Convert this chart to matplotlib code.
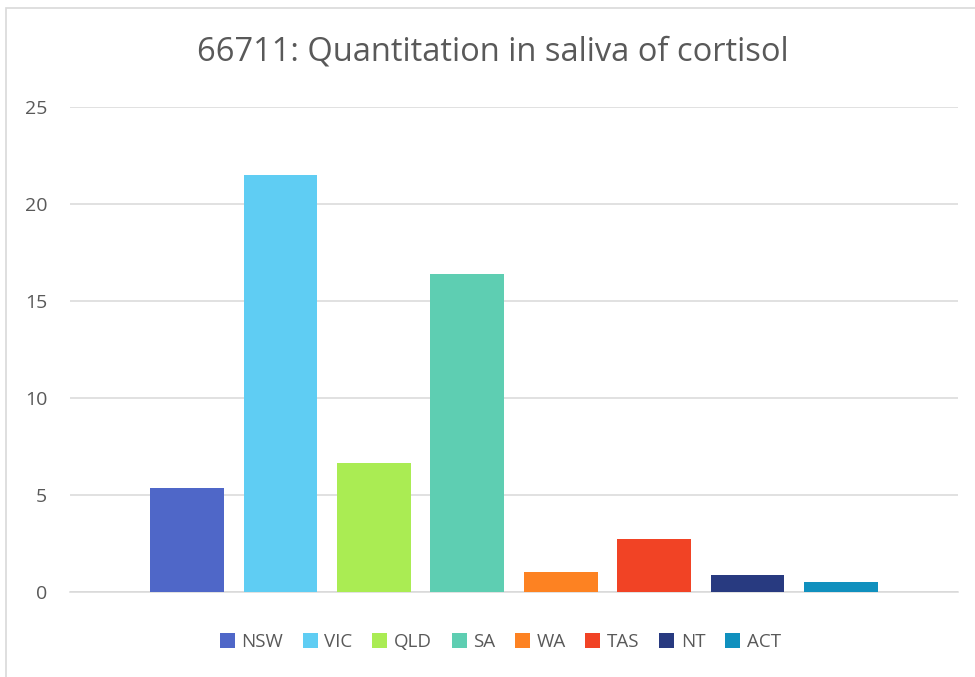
import matplotlib
matplotlib.use("Agg")
import matplotlib.pyplot as plt
from matplotlib.patches import Rectangle

# data
states = ["NSW", "VIC", "QLD", "SA", "WA", "TAS", "NT", "ACT"]
values = [5.35, 21.48, 6.63, 16.38, 1.01, 2.72, 0.86, 0.50]
colors = ["#4F67C8", "#5FCDF3", "#AAEC53", "#5ECEB2",
          "#FD8222", "#F14325", "#283A80", "#1090BE"]
yticks = [0, 5, 10, 15, 20, 25]
title = "66711: Quantitation in saliva of cortisol"

plt.rcParams['font.family'] = ['Open Sans', 'DejaVu Sans']
text_col = "#595959"
grid_col = "#D9D9D9"

fig = plt.figure(figsize=(9.75, 6.77), dpi=100)
ax = fig.add_axes([70 / 975, 85 / 677, 888 / 975, 485.3 / 677])

for i, (name, val, col) in enumerate(zip(states, values, colors)):
    ax.bar(i, val, width=0.792, color=col, label=name, zorder=3)

ax.set_xlim(-1.254, 8.254)
ax.set_ylim(0, 25)
ax.set_yticks(yticks)
ax.set_xticks([])
ax.yaxis.grid(True, color=grid_col, linewidth=1.1, zorder=0)
ax.tick_params(axis='y', length=0, pad=16.5, labelsize=14, labelcolor=text_col)
for side in ["top", "right", "left"]:
    ax.spines[side].set_visible(False)
ax.spines["bottom"].set_color(grid_col)
ax.spines["bottom"].set_linewidth(1.1)

fig.text(0.505, 1 - 52 / 677, title, ha='center', va='center',
         fontsize=23.5, color=text_col)

leg = fig.legend(loc='center', bbox_to_anchor=(0.513, 1 - 642 / 677), ncol=8,
                 frameon=False, fontsize=13.5, handlelength=0.8,
                 handleheight=0.8, handletextpad=0.35, columnspacing=1.05)
for t in leg.get_texts():
    t.set_color(text_col)

# chart area border (only top and left edges fall inside the picture)
fig.patches.append(Rectangle((6 / 975, -0.1), 1.2, 1 - 8 / 677 + 0.1,
                             transform=fig.transFigure, fill=False,
                             edgecolor=grid_col, linewidth=1.2))

fig.savefig("out.png", dpi=100)
